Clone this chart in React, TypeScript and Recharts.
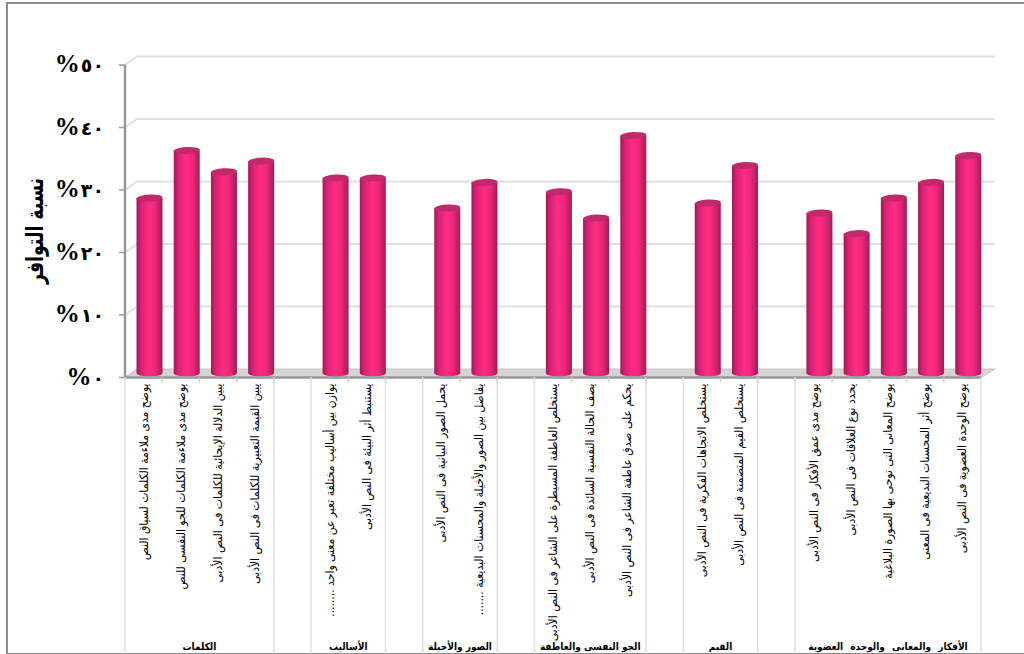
import React from 'react';
import { BarChart, Bar, XAxis, YAxis, CartesianGrid } from 'recharts';

const categories = [
  'يوضح مدى ملاءمة الكلمات لسياق النص',
  'يوضح مدى ملاءمة الكلمات للجو النفسى للنص',
  'يبين الدلالة الإيحائية للكلمات فى النص الأدبى',
  'يبين القيمة التعبيرية للكلمات فى النص الأدبى',
  '',
  'يوازن بين أساليب مختلفة تعبر عن معنى واحد ........',
  'يستنبط أثر البيئة فى النص الأدبى',
  '',
  'يحمل الصور البيانية فى النص الأدبى',
  'يفاضل بين الصور والأخيلة والمحسنات البديعية .......',
  '',
  'يستخلص العاطفة المسيطرة على الشاعر فى النص الأدبى',
  'يصف الحالة النفسية السائدة فى النص الأدبى',
  'يحكم على صدق عاطفة الشاعر فى النص الأدبى',
  '',
  'يستخلص الاتجاهات الفكرية فى النص الأدبى',
  'يستخلص القيم المتضمنة فى النص الأدبى',
  '',
  'يوضح مدى عمق الأفكار فى النص الأدبى',
  'يحدد نوع العلاقات فى النص الأدبى',
  'يوضح المعانى التى توحى بها الصورة البلاغية',
  'يوضح أثر المحسنات البديعية فى المعنى',
  'يوضح الوحدة العضوية فى النص الأدبى',
];

const values = [
  28, 35.6, 32.2, 33.9, null, 31.2, 31.2, null, 26.4, 30.5, null,
  29, 24.8, 38, null, 27.2, 33.2, null, 25.6, 22.3, 28, 30.5, 34.8,
];

const groupNames = ['الكلمات', 'الأساليب', 'الصور والأخيلة', 'الجو النفسى والعاطفة', 'القيم', 'الأفكار والمعانى والوحدة العضوية'];
const groupStarts = [0, 5, 8, 11, 15, 18];
const groupSizes = [4, 2, 2, 3, 2, 5];
const yTicks = [0, 10, 20, 30, 40, 50];
const yTitle = 'نسبة التوافر';

const data = categories.map((name, i) => ({ name, value: values[i] }));

const DEPTH_X = 12;
const DEPTH_Y = 8.5;
const arabicDigits = '٠١٢٣٤٥٦٧٨٩';
const toArabic = (v: number) => String(v).split('').map(d => arabicDigits[Number(d)]).join('');

function WallLine(props: any) {
  const { x1, y1, x2, y, height } = props;
  const isFloor = y1 >= y + height - 1;
  if (isFloor) {
    return (
      <polygon
        points={`${x1},${y1} ${x1 + DEPTH_X},${y1 - DEPTH_Y} ${x2 + DEPTH_X + 2},${y1 - DEPTH_Y} ${x2},${y1}`}
        fill="#d4d4d4"
        stroke="#c4c4c4"
      />
    );
  }
  return (
    <polyline
      points={`${x1},${y1} ${x1 + DEPTH_X},${y1 - DEPTH_Y} ${x2 + DEPTH_X + 2},${y1 - DEPTH_Y}`}
      fill="none"
      stroke="#e0e0e0"
      strokeWidth={2}
    />
  );
}

function CategoryTick({ x, y, payload, index, width, visibleTicksCount }: any) {
  const band = width / visibleTicksCount;
  const left = x - band / 2;
  const top = y - 8;
  const g = groupStarts.indexOf(index);
  return (
    <g>
      <line x1={left} y1={top} x2={left} y2={top + 5} stroke="#cfcfcf" strokeWidth={1.5} />
      {payload.value !== '' && (
        <text
          transform={`translate(${x + 4},${top + 6}) rotate(-90)`}
          direction="rtl"
          textAnchor="start"
          fontFamily="'DejaVu Sans Condensed', 'DejaVu Sans'"
          fontSize={12}
          fill="#000"
        >
          {payload.value}
        </text>
      )}
      {g >= 0 && (
        <g>
          <line x1={left} y1={top} x2={left} y2={top + 276} stroke="#e0e0e0" strokeWidth={1.5} />
          <line x1={left + band * groupSizes[g]} y1={top} x2={left + band * groupSizes[g]} y2={top + 276} stroke="#e0e0e0" strokeWidth={1.5} />
          <text
            x={left + (band * groupSizes[g]) / 2}
            y={top + 272}
            textAnchor="middle"
            direction="rtl"
            fontFamily="'DejaVu Sans Condensed', 'DejaVu Sans'"
            fontWeight="bold"
            fontSize={10}
            wordSpacing={g === 5 ? 4 : 0}
            fill="#000"
          >
            {groupNames[g]}
          </text>
        </g>
      )}
    </g>
  );
}

function PercentTick({ x, y, payload }: any) {
  return (
    <text x={x - 13} y={y + 7} textAnchor="end" fontWeight="bold" fill="#000">
      <tspan fontFamily="'Liberation Serif'" fontSize={25}>%</tspan>
      <tspan fontFamily="'DejaVu Sans'" fontSize={19} letterSpacing={5} dx={1}>{toArabic(payload.value)}</tspan>
    </text>
  );
}

function YTitle() {
  return (
    <text
      transform="translate(43,231) rotate(-90)"
      textAnchor="middle"
      direction="rtl"
      fontFamily="'DejaVu Sans Condensed', 'DejaVu Sans'"
      fontWeight="bold"
      fontSize={24}
      textLength={106}
      lengthAdjust="spacingAndGlyphs"
      fill="#000"
    >
      {yTitle}
    </text>
  );
}

function Cylinder({ x, y, width, height }: any) {
  if (height == null || height <= 0) return null;
  const cx = x + 5.5;
  const top = y - 4.5;
  const base = top + height;
  const rx = width / 2;
  const ry = 3.5;
  return (
    <g>
      <path
        d={`M${cx},${top} L${cx},${base} A${rx},${ry} 0 0 0 ${cx + width},${base} L${cx + width},${top} Z`}
        fill="url(#barShade)"
      />
      <ellipse
        cx={cx + rx}
        cy={top}
        rx={rx}
        ry={ry}
        fill="#c2286c"
        transform={`rotate(-3 ${cx + rx} ${top})`}
      />
    </g>
  );
}

export default function App() {
  return (
    <div style={{ position: 'absolute', left: 0, top: 0, width: 1024, height: 654, background: '#fff', overflow: 'hidden' }}>
      <div
        style={{
          position: 'absolute',
          left: 6,
          top: 2,
          width: 1024,
          height: 649,
          borderLeft: '2px solid #8c8c8c',
          borderTop: '2px solid #8c8c8c',
          borderBottom: '2px solid #8c8c8c',
        }}
      />
      <div style={{ position: 'absolute', left: 0, top: 0 }}>
        <BarChart
          width={1024}
          height={654}
          data={data}
          barSize={26}
          margin={{ top: 65, right: 43, bottom: 0, left: 0 }}
        >
          <defs>
            <linearGradient id="barShade" x1="0" y1="0" x2="1" y2="0">
              <stop offset="0%" stopColor="#9e1a58" />
              <stop offset="18%" stopColor="#dc2172" />
              <stop offset="48%" stopColor="#ff2d84" />
              <stop offset="72%" stopColor="#ee2679" />
              <stop offset="100%" stopColor="#a41a5a" />
            </linearGradient>
          </defs>
          <CartesianGrid vertical={false} horizontal={WallLine as any} />
          <XAxis
            dataKey="name"
            interval={0}
            height={276.5}
            axisLine={{ stroke: '#999', strokeWidth: 2.5 }}
            tickLine={false}
            tick={CategoryTick as any}
          />
          <YAxis
            width={125}
            domain={[0, 50]}
            ticks={yTicks}
            axisLine={{ stroke: '#999', strokeWidth: 2.5 }}
            tickLine={{ stroke: '#999', strokeWidth: 1.5 }}
            tickSize={6}
            tick={PercentTick as any}
            label={<YTitle />}
          />
          <Bar dataKey="value" shape={Cylinder as any} isAnimationActive={false} />
        </BarChart>
      </div>
    </div>
  );
}
